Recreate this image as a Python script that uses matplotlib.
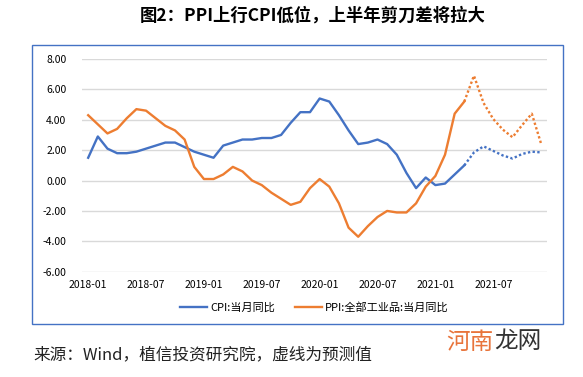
import matplotlib.pyplot as plt
import matplotlib.patches as mpatches
import numpy as np
import pandas as pd

plt.rcParams['font.family'] = ['Noto Sans CJK SC', 'DejaVu Sans']

# monthly categories 2018-01 .. 2021-12
months = list(pd.date_range('2018-01-01', periods=48, freq='MS').strftime('%Y-%m'))

# actual values 2018-01 .. 2021-04
cpi = [1.5, 2.9, 2.1, 1.8, 1.8, 1.9, 2.1, 2.3, 2.5, 2.5, 2.2, 1.9,
       1.7, 1.5, 2.3, 2.5, 2.7, 2.7, 2.8, 2.8, 3.0, 3.8, 4.5, 4.5,
       5.4, 5.2, 4.3, 3.3, 2.4, 2.5, 2.7, 2.4, 1.7, 0.5, -0.5, 0.2,
       -0.3, -0.2, 0.4, 1.0]
ppi = [4.3, 3.7, 3.1, 3.4, 4.1, 4.7, 4.6, 4.1, 3.6, 3.3, 2.7, 0.9,
       0.1, 0.1, 0.4, 0.9, 0.6, 0.0, -0.3, -0.8, -1.2, -1.6, -1.4, -0.5,
       0.1, -0.4, -1.5, -3.1, -3.7, -3.0, -2.4, -2.0, -2.1, -2.1, -1.5, -0.4,
       0.3, 1.7, 4.4, 5.2]

# forecasts 2021-04 .. 2021-12 (dotted)
cpi_fc = [1.0, 1.85, 2.25, 1.95, 1.65, 1.45, 1.75, 1.9, 1.85]
ppi_fc = [5.2, 6.9, 5.1, 4.05, 3.35, 2.85, 3.65, 4.4, 2.35]

yticks = [-6, -4, -2, 0, 2, 4, 6, 8]
xtick_labels = ['2018-01', '2018-07', '2019-01', '2019-07',
                '2020-01', '2020-07', '2021-01', '2021-07']

blue = '#4472C4'
orange = '#ED7D31'

fig = plt.figure(figsize=(5.83, 3.77), dpi=100)
ax = fig.add_axes([0.140, 0.2793, 0.799, 0.5642])

x_act = np.arange(len(cpi))
x_fc = np.arange(len(cpi) - 1, len(months))

ax.plot(x_act, cpi, color=blue, lw=1.7, label='CPI:当月同比')
ax.plot(x_act, ppi, color=orange, lw=1.7, label='PPI:全部工业品:当月同比')
ax.plot(x_fc, cpi_fc, color=blue, lw=1.7, linestyle=(0, (1, 1)))
ax.plot(x_fc, ppi_fc, color=orange, lw=1.7, linestyle=(0, (1, 1)))

ax.set_ylim(-6, 8)
ax.set_xlim(-0.68, 47.62)
ax.set_yticks(yticks)
ax.set_yticklabels(['%.2f' % v for v in yticks], fontsize=7.5)
ax.set_xticks([months.index(m) for m in xtick_labels])
ax.set_xticklabels(xtick_labels, fontsize=7.5)
ax.tick_params(length=0, pad=6)
ax.tick_params(axis='y', pad=11)
ax.grid(axis='y', color='#D9D9D9', lw=1)
ax.set_axisbelow(True)
for s in ax.spines.values():
    s.set_visible(False)

ax.legend(loc='center', bbox_to_anchor=(0.5, -0.17), ncol=2, frameon=False,
          fontsize=8, handlelength=2.4, columnspacing=1.8, handletextpad=0.3)

# outer chart frame
fig.patches.append(mpatches.Rectangle((31.5 / 583, 1 - 324 / 377), 531 / 583, 279 / 377,
                                      transform=fig.transFigure, fill=False,
                                      edgecolor=blue, lw=1))

fig.text(313 / 583, 1 - 16 / 377, '图2：PPI上行CPI低位，上半年剪刀差将拉大',
         ha='center', va='center', fontsize=12.5, fontweight='bold')
fig.text(33 / 583, 1 - 355 / 377, '来源：Wind，植信投资研究院，虚线为预测值',
         ha='left', va='center', fontsize=12, color='#222222')
fig.text(446 / 583, 1 - 342 / 377, '河南', ha='left', va='center',
         fontsize=17, color='#E8743B')
fig.text(494 / 583, 1 - 342 / 377, '龙网', ha='left', va='center',
         fontsize=17, color='#333333')

fig.savefig('out.png', dpi=100)
